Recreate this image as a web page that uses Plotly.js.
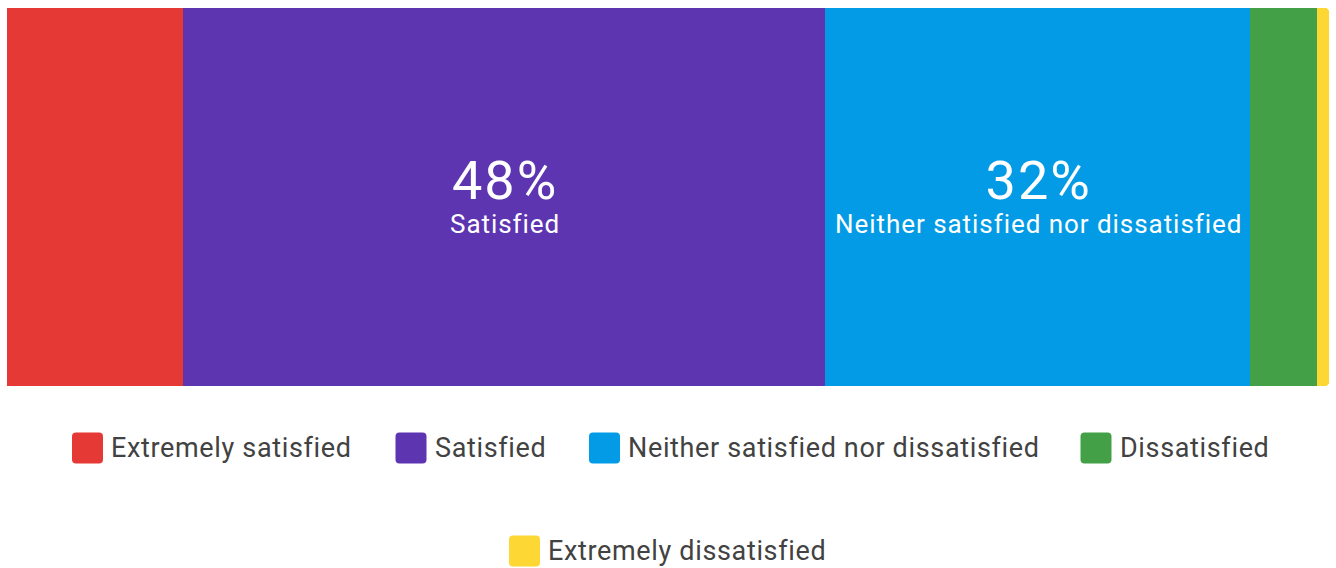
<!DOCTYPE html>
<html>
<head>
<meta charset="utf-8">
<script src="https://cdn.plot.ly/plotly-3.0.1.min.js"></script>
<style>
  html, body { margin: 0; padding: 0; background: #ffffff; }
  #chart { width: 1336px; height: 568px; }
</style>
</head>
<body>
<div id="chart"></div>
<script>
// Data
const categories = ["Extremely satisfied", "Satisfied", "Neither satisfied nor dissatisfied", "Dissatisfied", "Extremely dissatisfied"];
const values = [13.3, 48.6, 32.1, 5.1, 0.9];
const colors = ["#E53935", "#5E35B1", "#039BE5", "#43A047", "#FDD835"];
const labeledShare = ["", "48%", "32%", "", ""];

const W = 1336, H = 568;
const M = { l: 7, r: 7, t: 8, b: 182 };
const PW = W - M.l - M.r, PH = H - M.t - M.b;
const px2x = p => (p - M.l) / PW;
const py2y = p => (M.t + PH - p) / PH;
const spaced = (t, sp, size) =>
  `<span style="letter-spacing:${sp}px${size ? ';font-size:' + size + 'px' : ''}">${t}</span>`;

const traces = categories.map((c, i) => ({
  type: "bar",
  orientation: "h",
  name: c,
  y: ["Q"],
  x: [values[i]],
  marker: { color: colors[i], line: { width: 0 } },
  hoverinfo: "name+x",
  showlegend: false
}));

const annotations = [];
let cum = 0;
values.forEach((v, i) => {
  const mid = cum + v / 2;
  cum += v;
  if (labeledShare[i]) {
    annotations.push({
      x: mid, y: "Q", xref: "x", yref: "y", showarrow: false,
      text: spaced(labeledShare[i], 2, 54) + "<br>" + spaced(categories[i], 0.95),
      yshift: 3, xshift: 0.5,
      xanchor: "center", yanchor: "middle", align: "center",
      font: { family: "Roboto, sans-serif", size: 26, color: "#ffffff" }
    });
  }
});

// Manual legend (square + label), positioned in pixels
const legendPos = [
  { sx: 87.5, ty: 448 },
  { sx: 411, ty: 448 },
  { sx: 604.5, ty: 448 },
  { sx: 1096, ty: 448 },
  { sx: 524.5, ty: 551 }
];
const s = 15.5, r = 4;
const sq = `M${-s + r},${-s} H${s - r} Q${s},${-s} ${s},${-s + r} V${s - r} Q${s},${s} ${s - r},${s} H${-s + r} Q${-s},${s} ${-s},${s - r} V${-s + r} Q${-s},${-s} ${-s + r},${-s} Z`;
const shapes = [];
categories.forEach((c, i) => {
  const p = legendPos[i];
  shapes.push({
    type: "path", xref: "paper", yref: "paper",
    xsizemode: "pixel", ysizemode: "pixel",
    xanchor: px2x(p.sx), yanchor: py2y(p.ty),
    path: sq, fillcolor: colors[i], line: { width: 0 }
  });
  annotations.push({
    x: px2x(p.sx + s + 6), y: py2y(p.ty), xref: "paper", yref: "paper",
    xanchor: "left", yanchor: "middle", showarrow: false, text: spaced(c, 0.65),
    font: { family: "Roboto, sans-serif", size: 27, color: "#424242" }
  });
});

const layout = {
  width: W, height: H,
  margin: M,
  paper_bgcolor: "#ffffff", plot_bgcolor: "#ffffff",
  barmode: "stack", bargap: 0,
  barcornerradius: 4,
  showlegend: false,
  xaxis: { range: [0, 100], visible: false, fixedrange: true },
  yaxis: { range: [-0.5, 0.5], visible: false, fixedrange: true },
  annotations: annotations,
  shapes: shapes,
  font: { family: "Roboto, sans-serif" }
};

Plotly.newPlot("chart", traces, layout, { displayModeBar: false, staticPlot: true });
</script>
</body>
</html>
